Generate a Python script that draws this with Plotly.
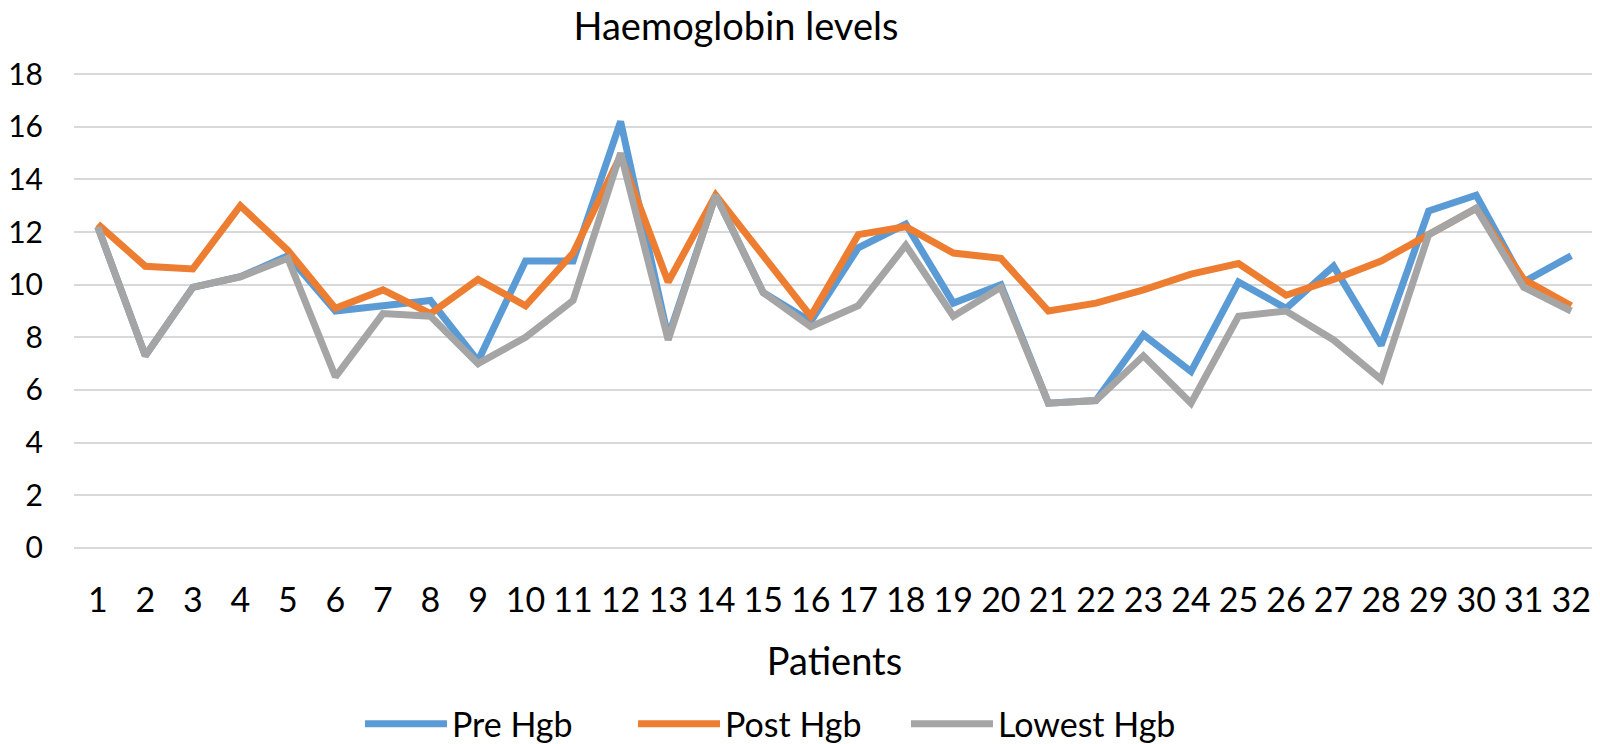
import plotly.graph_objects as go

patients = list(range(1, 33))
tick_labels = [str(p) for p in patients]

pre_hgb = [12.2, 7.3, 9.9, 10.3, 11.1, 9.0, 9.2, 9.4, 7.1, 10.9,
           10.9, 16.2, 8.0, 13.4, 9.7, 8.6, 11.4, 12.3, 9.3, 10.0,
           5.5, 5.6, 8.1, 6.7, 10.1, 9.1, 10.7, 7.7, 12.8, 13.4,
           10.1, 11.1]
post_hgb = [12.3, 10.7, 10.6, 13.0, 11.3, 9.1, 9.8, 8.9, 10.2, 9.2,
            11.2, 14.9, 10.1, 13.4, 11.1, 8.8, 11.9, 12.2, 11.2, 11.0,
            9.0, 9.3, 9.8, 10.4, 10.8, 9.6, 10.2, 10.9, 11.9, 12.9,
            10.2, 9.2]
lowest_hgb = [12.2, 7.3, 9.9, 10.3, 11.0, 6.5, 8.9, 8.8, 7.0, 8.0,
              9.4, 15.0, 7.9, 13.4, 9.7, 8.4, 9.2, 11.5, 8.8, 9.9,
              5.5, 5.6, 7.3, 5.5, 8.8, 9.0, 7.9, 6.4, 11.9, 12.9,
              9.9, 9.0]

series = [
    ("Pre Hgb", pre_hgb, "#5B9BD5"),
    ("Post Hgb", post_hgb, "#ED7D31"),
    ("Lowest Hgb", lowest_hgb, "#A5A5A5"),
]

FONT = "Lato, 'Open Sans', sans-serif"

fig = go.Figure()
for name, vals, color in series:
    fig.add_trace(go.Scatter(
        x=patients, y=vals, name=name, mode="lines",
        line=dict(color=color, width=7, shape="linear"),
    ))

# the page body adds an 8px margin, so the figure is sized to fit the window
fig.update_layout(
    width=1592, height=736,
    margin=dict(l=66, r=5, t=65, b=195),
    paper_bgcolor="white", plot_bgcolor="white",
    font=dict(family=FONT, size=34, color="#000000"),
    title=dict(text="Haemoglobin levels", x=0.4352, xref="paper",
               xanchor="center", y=0.975, yref="container", yanchor="middle",
               font=dict(family=FONT, size=38, color="#000000")),
    showlegend=True,
    legend=dict(orientation="h", x=0.2211, xref="container", xanchor="left",
                y=0.0271, yref="container", yanchor="middle",
                font=dict(family=FONT, size=34, color="#000000"),
                itemwidth=82, entrywidth=176, entrywidthmode="pixels",
                tracegroupgap=0),
    xaxis=dict(
        range=[0.5, 32.5], tickmode="array", tickvals=patients,
        ticktext=tick_labels, showgrid=False, zeroline=False,
        showline=False, ticks="", ticklabelstandoff=28, automargin=False,
        title=dict(text="Patients", standoff=30,
                   font=dict(family=FONT, size=38, color="#000000")),
        tickfont=dict(family=FONT, size=34, color="#000000"),
        fixedrange=True,
    ),
    yaxis=dict(
        range=[-0.04, 18.04], tickmode="linear", tick0=0, dtick=2,
        showgrid=True, gridcolor="#D9D9D9", gridwidth=2,
        zeroline=False, showline=False, ticks="", automargin=False,
        ticklabelstandoff=30,
        tickfont=dict(family=FONT, size=30, color="#000000"),
        fixedrange=True,
    ),
)

fig.write_html("out.html")
